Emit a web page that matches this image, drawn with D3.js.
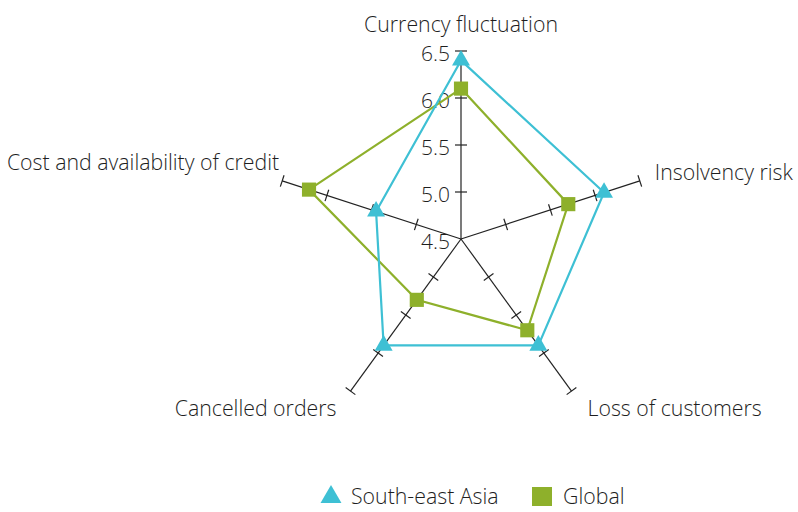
<!DOCTYPE html>
<html>
<head>
<meta charset="utf-8">
<script src="https://cdn.jsdelivr.net/npm/d3@7"></script>
<style>
    body { margin: 0; background: #fff; }
    text { font-family: "Open Sans", "DejaVu Sans", sans-serif; font-weight: 300; fill: #1e1e1e; }
</style>
</head>
<body>
<script>
var axes = ["Currency fluctuation", "Insolvency risk", "Loss of customers", "Cancelled orders", "Cost and availability of credit"];
var seaValues = [6.4, 6.1, 5.9, 5.9, 5.45];
var globalValues = [6.1, 5.7, 5.7, 5.3, 6.2];
var tickValues = [5.0, 5.5, 6.0, 6.5];
var seriesNames = ["South-east Asia", "Global"];

var width = 798,
    height = 512;

var cx = 461,
    cy = 239,
    radius = 188;

var colors = {
    sea: "#3ec0d4",
    global: "#8eb02b"
};

var svg = d3.select("body").append("svg")
    .attr("width", width)
    .attr("height", height);

var r = d3.scaleLinear()
    .domain([4.5, 6.5])
    .range([0, radius]);

var angle = d3.scaleLinear()
    .domain([0, axes.length])
    .range([0, 2 * Math.PI]);

function point(i, v) {
    var a = angle(i);
    return [cx + Math.sin(a) * r(v), cy - Math.cos(a) * r(v)];
}

var g = svg.append("g");

// axes with perpendicular ticks
axes.forEach(function(name, i) {
    var end = point(i, 6.5);
    g.append("line")
        .attr("x1", cx).attr("y1", cy)
        .attr("x2", end[0]).attr("y2", end[1])
        .attr("stroke", "#222")
        .attr("stroke-width", 1.2);

    var a = angle(i);
    var px = Math.cos(a), py = Math.sin(a);
    tickValues.forEach(function(t) {
        var p = point(i, t);
        g.append("line")
            .attr("x1", p[0] - px * 6).attr("y1", p[1] - py * 6)
            .attr("x2", p[0] + px * 6).attr("y2", p[1] + py * 6)
            .attr("stroke", "#222")
            .attr("stroke-width", 1.2);
    });
});

// tick labels on the vertical axis
g.selectAll(".tick-label")
    .data([4.5].concat(tickValues))
    .enter().append("text")
    .attr("class", "tick-label")
    .attr("x", cx - 11)
    .attr("y", function(d) { return cy - r(d) + 10; })
    .attr("text-anchor", "end")
    .style("font-size", "21px")
    .text(function(d) { return d.toFixed(1); });

// axis labels
var labelOffsets = [
    [0, -19, "middle"],
    [15, -1, "start"],
    [16, 25, "start"],
    [-14, 25, "end"],
    [-3, -11, "end"]
];

axes.forEach(function(name, i) {
    var end = point(i, 6.5);
    g.append("text")
        .attr("x", end[0] + labelOffsets[i][0])
        .attr("y", end[1] + labelOffsets[i][1])
        .attr("text-anchor", labelOffsets[i][2])
        .style("font-size", "21.3px")
        .text(name);
});

var line = d3.line().curve(d3.curveLinearClosed);

function drawSeries(values, color, symbol) {
    var pts = values.map(function(v, i) { return point(i, v); });
    g.append("path")
        .attr("d", line(pts))
        .attr("fill", "none")
        .attr("stroke", color)
        .attr("stroke-width", 2.2);

    g.selectAll(null)
        .data(pts)
        .enter().append("path")
        .attr("transform", function(d) { return "translate(" + d[0] + "," + d[1] + ")"; })
        .attr("d", d3.symbol().type(symbol).size(symbol === d3.symbolSquare ? 200 : 140))
        .attr("fill", color);
}

drawSeries(globalValues, colors.global, d3.symbolSquare);
drawSeries(seaValues, colors.sea, d3.symbolTriangle);

// legend
var legend = svg.append("g");

legend.append("path")
    .attr("transform", "translate(331,497)")
    .attr("d", d3.symbol().type(d3.symbolTriangle).size(190))
    .attr("fill", colors.sea);
legend.append("text")
    .attr("x", 351).attr("y", 504)
    .style("font-size", "21.3px")
    .text(seriesNames[0]);

legend.append("rect")
    .attr("x", 532).attr("y", 487)
    .attr("width", 20).attr("height", 19)
    .attr("fill", colors.global);
legend.append("text")
    .attr("x", 563).attr("y", 504)
    .style("font-size", "21.3px")
    .text(seriesNames[1]);
</script>
</body>
</html>
